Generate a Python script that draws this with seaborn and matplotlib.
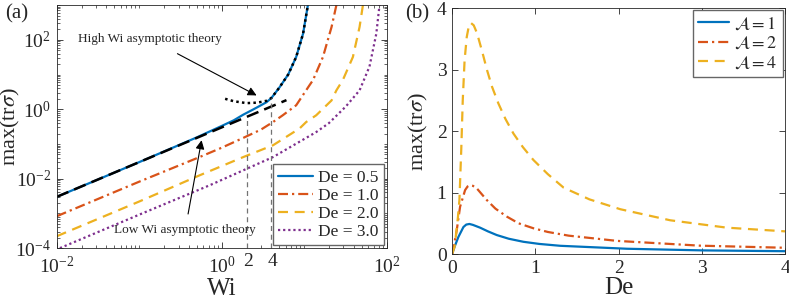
import numpy as np
import pandas as pd
import matplotlib
matplotlib.use("Agg")
import matplotlib.pyplot as plt
import matplotlib.ticker as mtick
import seaborn as sns

# ================================
# DATA
# ================================
# (a) max(tr sigma) vs Wi, one curve per De
wi_05 = [0.01, 0.1, 0.5, 1.0, 1.4, 1.83, 2.4, 2.9, 3.5, 4.0, 5.0, 6.4, 8.0, 9.7, 11.1]
tr_05 = [0.003, 0.03, 0.155, 0.33, 0.48, 0.7, 0.98, 1.25, 1.6, 2.1, 4.2, 10, 32, 150, 1000]

wi_10 = [0.01, 0.1, 0.54, 1.0, 1.83, 3.0, 4.2, 5.5, 8.0, 11.6, 12.8, 16.9, 21.5, 24.6]
tr_10 = [8.3e-4, 8.2e-3, 0.042, 0.078, 0.15, 0.26, 0.43, 0.67, 1.3, 4.9, 6.9, 32, 235, 1000]

wi_20 = [0.01, 0.1, 0.54, 1.83, 4.2, 8.8, 10.6, 14, 21.5, 24.6, 29.5, 39, 47, 51.6]
tr_20 = [2.2e-4, 2.2e-3, 0.0125, 0.042, 0.092, 0.28, 0.43, 0.67, 1.8, 3.5, 7.0, 32, 235, 1000]

wi_30 = [0.0109, 0.1, 0.72, 4.2, 14, 20, 32, 47, 62, 75, 82]
tr_30 = [1e-4, 9.2e-4, 0.0065, 0.042, 0.22, 0.4, 1.2, 3.5, 17, 150, 1000]

# asymptotic theories
wi_low = [0.01, 6.1]
tr_low = [0.003, 1.83]
wi_high = [1.1, 1.4, 2.0, 2.7, 3.5, 4.0, 5.0, 6.4, 8.0, 9.7, 11.1]
tr_high = [2.0, 1.7, 1.5, 1.55, 1.75, 2.1, 4.2, 10, 32, 150, 1000]

# vertical markers at Wi = 2 and 4
ref_wi = [2, 4]
ref_top = [0.6, 2.1]

de_labels = ["De = 0.5", "De = 1.0", "De = 2.0", "De = 3.0"]

# (b) max(tr sigma) vs De, one curve per A
de_a1 = [0, 0.03, 0.076, 0.136, 0.17, 0.208, 0.25, 0.336, 0.43, 0.536, 0.68, 0.857, 1.05, 1.3, 2.1, 3.02, 4.0]
tr_a1 = [0, 0.12, 0.28, 0.44, 0.48, 0.49, 0.475, 0.43, 0.37, 0.31, 0.25, 0.20, 0.165, 0.135, 0.087, 0.06, 0.047]

de_a2 = [0, 0.03, 0.056, 0.096, 0.156, 0.186, 0.216, 0.25, 0.296, 0.34, 0.416, 0.52, 0.657, 0.8, 0.977, 1.15, 1.4, 1.98, 2.98, 4.0]
tr_a2 = [0, 0.2, 0.39, 0.77, 1.04, 1.1, 1.12, 1.11, 1.07, 1.0, 0.88, 0.74, 0.61, 0.5, 0.42, 0.36, 0.30, 0.215, 0.137, 0.103]

de_a4 = [0, 0.03, 0.05, 0.07, 0.088, 0.11, 0.128, 0.15, 0.176, 0.2, 0.224, 0.26, 0.30, 0.36, 0.42,
         0.48, 0.556, 0.64, 0.737, 0.85, 0.977, 1.15, 1.34, 1.65, 2.02, 2.62, 3.3, 4.0]
tr_a4 = [0, 0.12, 0.35, 0.6, 0.88, 1.7, 2.5, 3.15, 3.53, 3.7, 3.76, 3.72, 3.59, 3.3, 2.99,
         2.72, 2.45, 2.2, 1.96, 1.74, 1.53, 1.3, 1.08, 0.89, 0.73, 0.55, 0.43, 0.37]

a_labels = [r"$\mathcal{A}=1$", r"$\mathcal{A}=2$", r"$\mathcal{A}=4$"]

# ================================
# STYLE
# ================================
sns.set_style("ticks")
plt.rcParams["font.family"] = ["Liberation Serif", "DejaVu Serif"]
plt.rcParams["mathtext.fontset"] = "stix"
plt.rcParams["axes.edgecolor"] = "0.15"
plt.rcParams["axes.linewidth"] = 0.6
plt.rcParams["xtick.color"] = "0.15"
plt.rcParams["ytick.color"] = "0.15"

blue, red, yellow, purple = "#0072BD", "#D95319", "#EDB120", "#7E2F8E"
lw = 1.6
dashdot = (4.5, 1.8, 1.0, 1.8)
dashed = (4.5, 3.0)
dotted = (1.0, 1.3)

fig = plt.figure(figsize=(7.89, 3.0), dpi=100)
ax1 = fig.add_axes([0.072, 0.173, 0.418, 0.81])
ax2 = fig.add_axes([0.573, 0.153, 0.422, 0.82])

# ================================
# PANEL (a)
# ================================
for wi, tr, col, dash, lab in [
    (wi_05, tr_05, blue, "", de_labels[0]),
    (wi_10, tr_10, red, dashdot, de_labels[1]),
    (wi_20, tr_20, yellow, dashed, de_labels[2]),
    (wi_30, tr_30, purple, dotted, de_labels[3]),
]:
    sns.lineplot(x=wi, y=tr, ax=ax1, color=col, lw=lw, label=lab, sort=False)
    if dash:
        ax1.lines[-1].set_dashes(dash)

sns.lineplot(x=wi_low, y=tr_low, ax=ax1, color="k", lw=1.8, sort=False)
ax1.lines[-1].set_dashes((5, 2.5))
sns.lineplot(x=wi_high, y=tr_high, ax=ax1, color="k", lw=1.8, sort=False)
ax1.lines[-1].set_dashes(dotted)

ax1.vlines(ref_wi, 1e-4, ref_top, colors="0.45", lw=0.9, linestyles=(0, (4, 3)))

ax1.set_xscale("log")
ax1.set_yscale("log")
ax1.set_xlim(1e-2, 1e2)
ax1.set_ylim(1e-4, 1e3)
ax1.xaxis.set_major_locator(mtick.FixedLocator([1e-2, 1e0, 1e2]))
ax1.yaxis.set_major_locator(mtick.FixedLocator([1e-4, 1e-2, 1e0, 1e2]))
ax1.xaxis.set_major_formatter(mtick.LogFormatterMathtext())
ax1.yaxis.set_major_formatter(mtick.LogFormatterMathtext())
ax1.xaxis.set_minor_locator(mtick.LogLocator(base=10, subs=np.arange(1, 10), numticks=20))
ax1.yaxis.set_minor_locator(mtick.LogLocator(base=10, subs=np.arange(1, 10), numticks=20))
ax1.xaxis.set_minor_formatter(mtick.NullFormatter())
ax1.yaxis.set_minor_formatter(mtick.NullFormatter())

for r in ref_wi:
    ax1.text(r * 1.04, -0.022, str(r), transform=ax1.get_xaxis_transform(),
             fontsize=14, ha="center", va="top")

ax1.set_xlabel("Wi", fontsize=18)
ax1.xaxis.set_label_coords(0.5, -0.122)
ax1.set_ylabel(r"max(tr$\sigma$)", fontsize=16)
ax1.yaxis.set_label_coords(-0.106, 0.5)

ax1.annotate("High Wi asymptotic theory", xy=(2.65, 2.5), xytext=(0.135, 104),
             ha="center", va="center", fontsize=9.5,
             arrowprops=dict(arrowstyle="-|>", color="k", lw=0.8,
                             mutation_scale=13, shrinkA=8, shrinkB=0))
ax1.annotate("Low Wi asymptotic theory", xy=(0.57, 0.128), xytext=(0.36, 3.3e-4),
             ha="center", va="center", fontsize=9.5,
             arrowprops=dict(arrowstyle="-|>", color="k", lw=0.8,
                             mutation_scale=13, shrinkA=5, shrinkB=0))

ax1.legend(loc="lower right", fontsize=12.5, frameon=True, fancybox=False,
           edgecolor="0.4", framealpha=1, handlelength=2.0, handletextpad=0.3,
           labelspacing=0.12, borderpad=0.3, borderaxespad=0.15)

# ================================
# PANEL (b)
# ================================
for de, tr, col, dash, lab in [
    (de_a1, tr_a1, blue, "", a_labels[0]),
    (de_a2, tr_a2, red, dashdot, a_labels[1]),
    (de_a4, tr_a4, yellow, dashed, a_labels[2]),
]:
    sns.lineplot(x=de, y=tr, ax=ax2, color=col, lw=lw, label=lab, sort=False)
    if dash:
        ax2.lines[-1].set_dashes(dash)

ax2.set_xlim(0, 4)
ax2.set_ylim(0, 4)
ax2.set_xticks([0, 1, 2, 3, 4])
ax2.set_yticks([0, 1, 2, 3, 4])
ax2.set_xlabel("De", fontsize=18)
ax2.xaxis.set_label_coords(0.5, -0.093)
ax2.set_ylabel(r"max(tr$\sigma$)", fontsize=16)
ax2.yaxis.set_label_coords(-0.066, 0.5)
ax2.legend(loc="upper right", fontsize=13, frameon=True, fancybox=False,
           edgecolor="0.4", framealpha=1, handlelength=1.7, handletextpad=0.3,
           labelspacing=0.15, borderpad=0.3, borderaxespad=0.1)

for ax in (ax1, ax2):
    for s in ax.spines.values():
        s.set_visible(True)
    ax.tick_params(which="both", direction="in", top=True, right=True,
                   labelsize=14, pad=4)
    ax.tick_params(which="major", length=4, width=0.6)
    ax.tick_params(which="minor", length=2, width=0.5)
ax1.tick_params(axis="x", which="major", pad=5.5)

fig.text(0.006, 0.985, "(a)", fontsize=15, va="top", ha="left")
fig.text(0.513, 0.985, "(b)", fontsize=15, va="top", ha="left")

fig.savefig("out.png", dpi=100)
